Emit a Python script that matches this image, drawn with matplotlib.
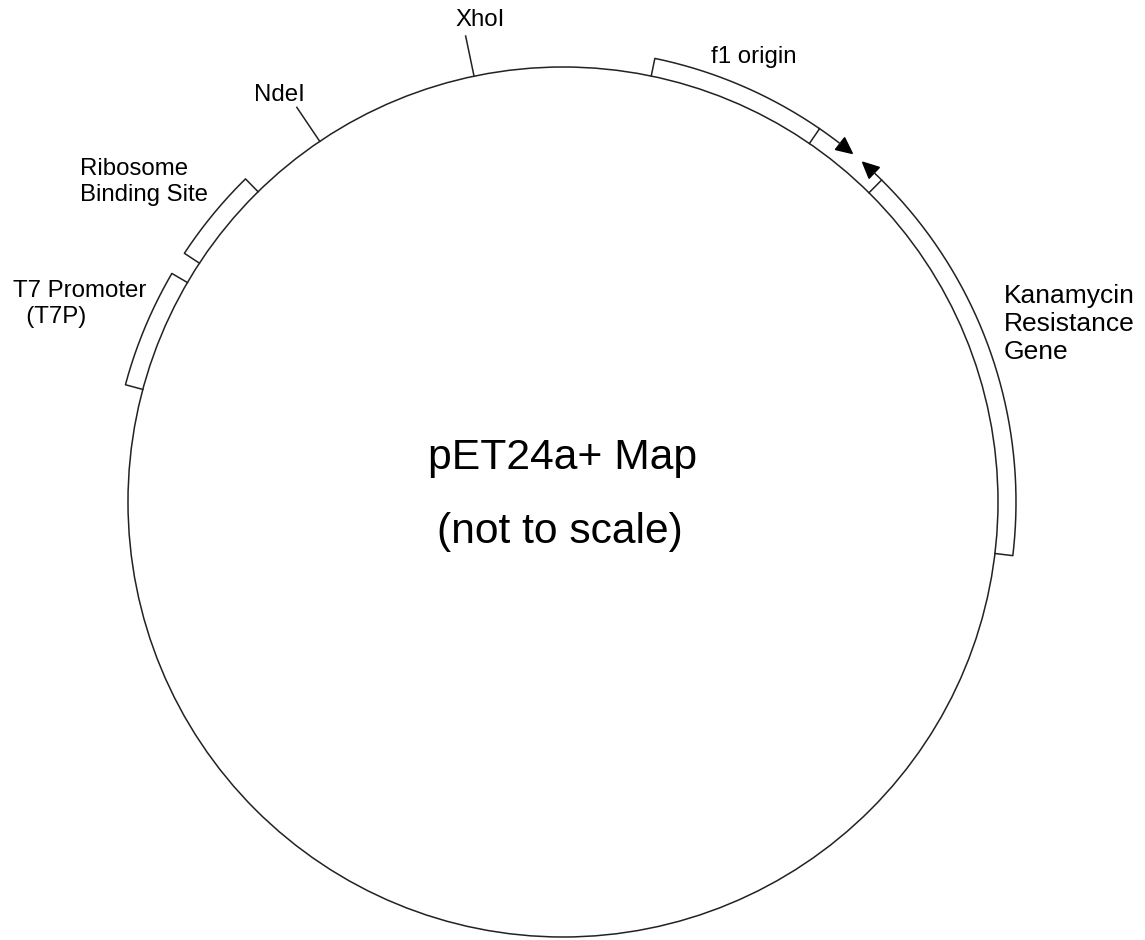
import numpy as np
import matplotlib.pyplot as plt
from matplotlib.patches import Circle, Polygon

plt.rcParams['font.family'] = ['Liberation Sans', 'DejaVu Sans']

# plasmid features: angle in degrees, clockwise from the top
feature_names = ['T7 Promoter', 'Ribosome Binding Site', 'f1 origin', 'Kanamycin Resistance Gene']
feature_start = [-75.0, -56.7, 11.7, 44.7]
feature_end = [-59.7, -44.5, 34.5, 96.8]
# arrow tips on the outer edge (f1 points clockwise, KanR points back)
arrow_from = [34.5, 44.7]
arrow_tip = [39.7, 41.4]

site_names = ['XhoI', 'NdeI']
site_angle = [-11.8, -34.0]

title_lines = ['pET24a+ Map', '(not to scale)']

# layout (pixels)
cx, cy = 563, 502
r_in, r_out = 435, 453
tick_len = 41
lc = '#222222'


def pos(ang, r):
    a = np.radians(ang)
    return cx + r * np.sin(a), cy - r * np.cos(a)


def arc(a0, a1, r, n=200):
    t = np.linspace(a0, a1, n)
    return pos(t, r)


fig = plt.figure(figsize=(11.45, 9.4), dpi=100)
ax = fig.add_axes([0, 0, 1, 1])
ax.set_xlim(0, 1145)
ax.set_ylim(940, 0)
ax.axis('off')

# backbone
ax.add_patch(Circle((cx, cy), r_in, fill=False, edgecolor=lc, lw=1.1))

# feature boxes
for a0, a1 in zip(feature_start, feature_end):
    xo, yo = arc(a0, a1, r_out)
    x0, y0 = pos(a0, r_in)
    x1, y1 = pos(a1, r_in)
    ax.plot(np.r_[x0, xo, x1], np.r_[y0, yo, y1], color=lc, lw=1.1)

# direction arrows
for a0, tip in zip(arrow_from, arrow_tip):
    head = 2.0 if tip > a0 else -2.0
    base = tip - head
    xl, yl = arc(a0, base, r_out, 30)
    ax.plot(xl, yl, color=lc, lw=1.1)
    bx, by = pos(base, r_out)
    tx, ty = pos(tip, r_out)
    nx, ny = (bx - cx) / r_out, (by - cy) / r_out
    w = 7.5
    tri = Polygon([[tx, ty], [bx + nx * w, by + ny * w], [bx - nx * w, by - ny * w]],
                  closed=True, color='black')
    ax.add_patch(tri)

# restriction sites
for ang in site_angle:
    x0, y0 = pos(ang, r_in)
    x1, y1 = pos(ang, r_in + tick_len)
    ax.plot([x0, x1], [y0, y1], color=lc, lw=1.1)

fs = 17.3
ax.text(480, 20, site_names[0], fontsize=fs, ha='center', va='center')
ax.text(279, 95, site_names[1], fontsize=fs, ha='center', va='center')
ax.text(754, 57, feature_names[2], fontsize=fs, ha='center', va='center')
ax.text(80, 182, 'Ribosome\nBinding Site', fontsize=fs, ha='left', va='center', linespacing=1.25)
ax.text(13, 304, 'T7 Promoter\n  (T7P)', fontsize=fs, ha='left', va='center', linespacing=1.25)
ax.text(1004, 324, 'Kanamycin\nResistance\nGene', fontsize=19, ha='left', va='center', linespacing=1.2)

ax.text(563, 458, title_lines[0], fontsize=30.7, ha='center', va='center')
ax.text(560, 532, title_lines[1], fontsize=30.7, ha='center', va='center')

fig.savefig('out.png', dpi=100, facecolor='white')
